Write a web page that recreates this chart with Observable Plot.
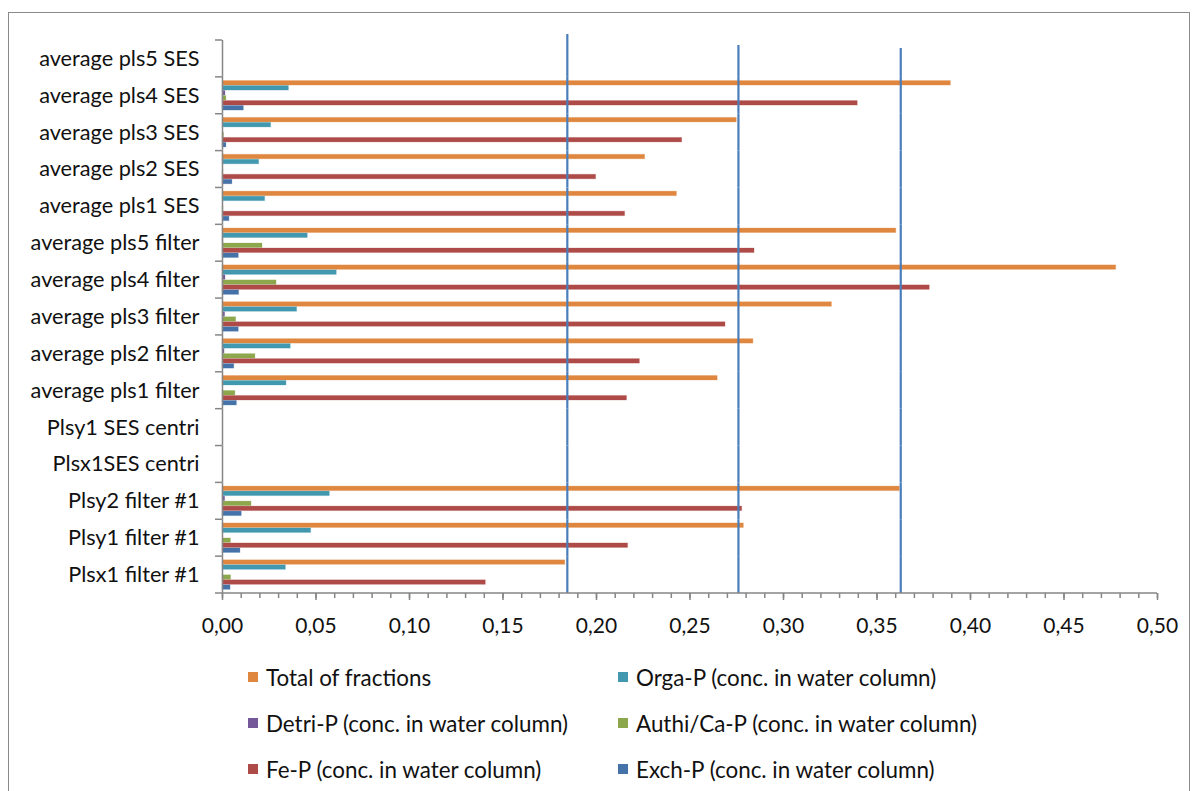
<!DOCTYPE html>
<html><head><meta charset="utf-8">
<script src="https://cdn.jsdelivr.net/npm/d3@7"></script>
<script src="https://cdn.jsdelivr.net/npm/@observablehq/plot@0.6"></script>
<style>
html,body{margin:0;padding:0;background:#fff;width:1196px;height:791px;overflow:hidden;font-family:Lato,"Open Sans",sans-serif;}
#frame{position:absolute;left:8px;top:12px;width:1182px;height:820px;border:1px solid #8a8a8a;box-sizing:border-box;}
#chart{position:absolute;left:0;top:0;}
#legend{position:absolute;left:248px;top:654px;display:grid;grid-template-columns:370px 420px;grid-auto-rows:46px;font-size:22.4px;color:#111;}
.item{display:flex;align-items:center;white-space:nowrap;}
.sw{width:10px;height:10px;margin-right:8px;flex:none;}
</style></head><body>
<div id="frame"></div><div id="chart"></div><div id="legend"></div>
<script>
// Categories, top to bottom as displayed
const categories = [
  "average pls5 SES", "average pls4 SES", "average pls3 SES", "average pls2 SES", "average pls1 SES",
  "average pls5 filter", "average pls4 filter", "average pls3 filter", "average pls2 filter", "average pls1 filter",
  "Plsy1 SES centri", "Plsx1SES centri", "Plsy2 filter #1", "Plsy1 filter #1", "Plsx1 filter #1"
];
const seriesNames = [
  "Total of fractions", "Orga-P (conc. in water column)", "Detri-P (conc. in water column)",
  "Authi/Ca-P (conc. in water column)", "Fe-P (conc. in water column)", "Exch-P (conc. in water column)"
];
const seriesColors = ["#E0873F", "#4198AF", "#74589A", "#8DA84C", "#AE4A47", "#4572A8"];

const totalFractions = [null, 0.3895, 0.2750, 0.2260, 0.2430, 0.3603, 0.4779, 0.3259, 0.2839, 0.2648, null, null, 0.3622, 0.2788, 0.1833];
const orgaP  = [null, 0.0355, 0.0260, 0.0196, 0.0228, 0.0456, 0.0611, 0.0399, 0.0365, 0.0342, null, null, 0.0574, 0.0474, 0.0339];
const detriP = [null, 0.0016, null, null, null, 0.0005, 0.0016, 0.0014, 0.0011, null, null, null, 0.0014, null, null];
const authiP = [null, 0.0021, 0.0008, 0.0005, 0.0005, 0.0214, 0.0289, 0.0073, 0.0176, 0.0069, null, null, 0.0155, 0.0045, 0.0046];
const feP    = [null, 0.3397, 0.2458, 0.1998, 0.2153, 0.2845, 0.3782, 0.2690, 0.2232, 0.2163, null, null, 0.2779, 0.2169, 0.1408];
const exchP  = [null, 0.0114, 0.0021, 0.0053, 0.0037, 0.0087, 0.0089, 0.0087, 0.0063, 0.0077, null, null, 0.0103, 0.0096, 0.0043];

const refLines = [0.1844, 0.2759, 0.3627];

const xTicks = [0, 0.05, 0.10, 0.15, 0.20, 0.25, 0.30, 0.35, 0.40, 0.45, 0.50];
const xTickLabels = ["0,00", "0,05", "0,10", "0,15", "0,20", "0,25", "0,30", "0,35", "0,40", "0,45", "0,50"];
const xMinorTicks = [0,0.01,0.02,0.03,0.04,0.05,0.06,0.07,0.08,0.09,0.10,0.11,0.12,0.13,0.14,0.15,0.16,0.17,0.18,0.19,0.20,0.21,0.22,0.23,0.24,0.25,0.26,0.27,0.28,0.29,0.30,0.31,0.32,0.33,0.34,0.35,0.36,0.37,0.38,0.39,0.40,0.41,0.42,0.43,0.44,0.45,0.46,0.47,0.48,0.49,0.50];

const seriesValues = [totalFractions, orgaP, detriP, authiP, feP, exchP];
const rows = [];
categories.forEach((c, i) => seriesValues.forEach((vals, s) => rows.push({category: c, series: seriesNames[s], value: vals[i]})));

const axisGray = "#868686";
const refColor = "#4A7EBB";
const refInsetTop = [-6, 5, 8];

// reference rules: top facet separately (to start each line at its own height), the rest contiguous
const refMarks = refLines.flatMap((v, i) => [
  Plot.ruleX([{category: categories[0], value: v}], {x: "value", fy: "category", stroke: refColor, strokeWidth: 2.2, insetTop: refInsetTop[i]}),
  Plot.ruleX(categories.slice(1).map(c => ({category: c, value: v})), {x: "value", fy: "category", stroke: refColor, strokeWidth: 2.2})
]);

const chart = Plot.plot({
  width: 1196, height: 640,
  marginLeft: 222, marginRight: 39, marginTop: 40, marginBottom: 47,
  style: {fontFamily: "Lato, 'Open Sans', sans-serif", fontSize: "21px", color: "#111", background: "transparent", overflow: "visible"},
  x: {domain: [0, 0.5], axis: null},
  y: {domain: seriesNames, paddingInner: 0.1, paddingOuter: 0.737, round: false, axis: null},
  fy: {domain: categories, padding: 0, round: false, axis: null},
  color: {domain: seriesNames, range: seriesColors},
  marks: [
    Plot.barX(rows, {x: "value", y: "series", fy: "category", fill: "series", stroke: "series", strokeOpacity: 0.25, strokeWidth: 1}),
    ...refMarks,
    Plot.ruleX(categories.map(c => ({category: c})), {x: () => 0, fy: "category", stroke: axisGray, strokeWidth: 1.5}),
    Plot.axisFy({anchor: "left", tickSize: 0, tickPadding: 23, label: null, fontSize: 21.7}),
    Plot.axisX({anchor: "bottom", ticks: xMinorTicks, tickSize: 5, tickFormat: () => "", stroke: axisGray, strokeWidth: 1.5, label: null, facetAnchor: "bottom"}),
    Plot.axisX({anchor: "bottom", ticks: xTicks, tickSize: 7, tickPadding: 18, tickFormat: d => xTickLabels[xTicks.indexOf(d)], stroke: axisGray, strokeWidth: 1.5, label: null, fontSize: 21, facetAnchor: "bottom"})
  ]
});
document.getElementById("chart").appendChild(chart);

// category boundary ticks on the left axis and the bottom axis line (Excel style), from Plot's scales
const fy = chart.scale("fy");
const xs = chart.scale("x");
const x0 = xs.range[0], x1 = xs.range[1];
const n = categories.length;
const y0 = fy.range[0], y1 = fy.range[1];
const g = d3.select(chart).append("g").attr("stroke", axisGray).attr("stroke-width", 1.5);
d3.range(n + 1).forEach(i => {
  const y = y0 + i * (y1 - y0) / n;
  g.append("line").attr("x1", x0 - 7).attr("x2", x0).attr("y1", y).attr("y2", y);
});
g.append("line").attr("x1", x0).attr("x2", x1).attr("y1", y1).attr("y2", y1);

// legend
const legend = d3.select("#legend");
seriesNames.forEach((name, i) => {
  const item = legend.append("div").attr("class", "item");
  item.append("div").attr("class", "sw").style("background", seriesColors[i]);
  item.append("span").text(name);
});
</script>
</body></html>
